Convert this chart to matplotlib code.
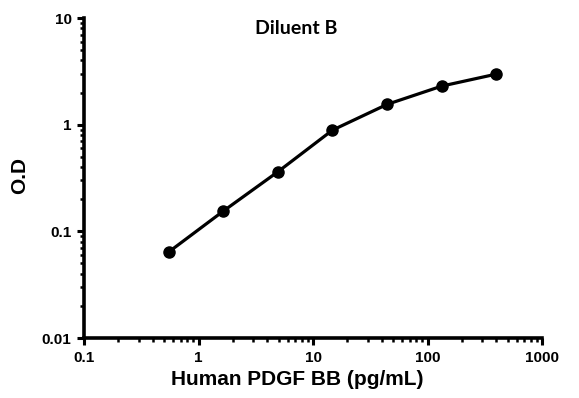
import numpy as np
import matplotlib.pyplot as plt
from matplotlib.ticker import LogLocator, NullFormatter, FixedLocator, FixedFormatter

# standard curve, 3-fold dilutions
conc = [0.549, 1.65, 4.94, 14.8, 44.4, 133.3, 400]
od = [0.064, 0.155, 0.362, 0.889, 1.55, 2.30, 2.98]

xticks = [0.1, 1, 10, 100, 1000]
xlabels = ['0.1', '1', '10', '100', '1000']
yticks = [0.01, 0.1, 1, 10]
ylabels = ['0.01', '0.1', '1', '10']

plt.rcParams['font.family'] = ['Liberation Sans', 'DejaVu Sans']

fig = plt.figure(figsize=(5.79, 3.98), dpi=100)
ax = fig.add_axes([84/579, 1 - 338/398, (542-84)/579, (338-18)/398])

ax.plot(conc, od, color='black', lw=2.3, marker='o', ms=8, solid_capstyle='round')
ax.set_xscale('log')
ax.set_yscale('log')
ax.set_xlim(0.1, 1000)
ax.set_ylim(0.01, 10)

ax.xaxis.set_major_locator(FixedLocator(xticks))
ax.xaxis.set_major_formatter(FixedFormatter(xlabels))
ax.yaxis.set_major_locator(FixedLocator(yticks))
ax.yaxis.set_major_formatter(FixedFormatter(ylabels))
ax.xaxis.set_minor_locator(LogLocator(base=10, subs=np.arange(2, 10)))
ax.yaxis.set_minor_locator(LogLocator(base=10, subs=np.arange(2, 10)))
ax.xaxis.set_minor_formatter(NullFormatter())
ax.yaxis.set_minor_formatter(NullFormatter())

for s in ['top', 'right']:
    ax.spines[s].set_visible(False)
for s in ['left', 'bottom']:
    ax.spines[s].set_linewidth(2.6)

ax.tick_params(which='major', direction='out', length=5, width=2.2, labelsize=11, pad=4)
ax.tick_params(which='minor', direction='out', length=3, width=1.8)
for lab in ax.get_xticklabels() + ax.get_yticklabels():
    lab.set_fontweight('bold')

ax.set_xlabel('Human PDGF BB (pg/mL)', fontsize=15, fontweight='bold')
ax.set_ylabel('O.D', fontsize=15, fontweight='bold')
ax.xaxis.set_label_coords((297-84)/(542-84), -0.1)
ax.yaxis.set_label_coords((29-84)/(542-84), (338-175)/320)

fig.text(296/579, 1 - 28/398, 'Diluent B', fontsize=14, fontweight='bold',
         family=['Lato', 'DejaVu Sans'], ha='center', va='center')

fig.savefig('out.png', dpi=100)
